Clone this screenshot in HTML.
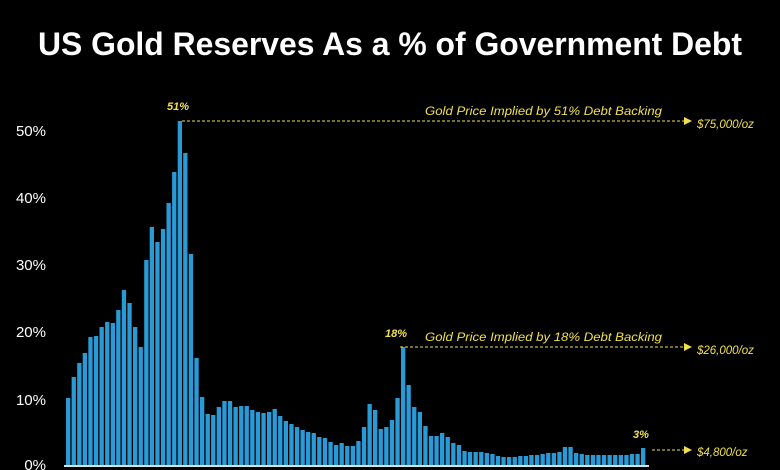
<!DOCTYPE html>
<html><head><meta charset="utf-8"><style>
html,body{margin:0;padding:0;background:#000;}
svg{display:block;}
text{font-family:"Liberation Sans",sans-serif;}
</style></head><body>
<svg id="s" width="780" height="470" viewBox="0 0 780 470" xmlns="http://www.w3.org/2000/svg">
<rect width="780" height="470" fill="#000"/>
<text x="390" y="55" fill="#fff" font-size="32" font-weight="bold" text-anchor="middle" textLength="704" lengthAdjust="spacingAndGlyphs">US Gold Reserves As a % of Government Debt</text>
<g fill="#fff" font-size="15" text-anchor="end">
<text x="46" y="136">50%</text><text x="46" y="203">40%</text><text x="46" y="270">30%</text>
<text x="46" y="337">20%</text><text x="46" y="405">10%</text><text x="46" y="470">0%</text>
</g>
<g id="bars" fill="#2a9ad6"></g>
<rect x="64" y="465" width="585" height="2" fill="#cfe6f2"/>
<g fill="#f0e050" font-style="italic">
<text x="178" y="110" font-size="11" font-weight="bold" text-anchor="middle">51%</text>
<text x="425" y="115" font-size="11.5" textLength="237" lengthAdjust="spacingAndGlyphs">Gold Price Implied by 51% Debt Backing</text>
<text x="697" y="128" font-size="11.5">$75,000/oz</text>
<text x="396" y="337" font-size="11" font-weight="bold" text-anchor="middle">18%</text>
<text x="425" y="341" font-size="11.5" textLength="237" lengthAdjust="spacingAndGlyphs">Gold Price Implied by 18% Debt Backing</text>
<text x="697" y="354" font-size="11.5">$26,000/oz</text>
<text x="641" y="438" font-size="11" font-weight="bold" text-anchor="middle">3%</text>
<text x="697" y="456" font-size="11.5">$4,800/oz</text>
</g>
<g stroke="#f0e050" stroke-width="1" stroke-dasharray="3,2" fill="none">
<line x1="182" y1="121" x2="684" y2="121"/>
<line x1="400" y1="347" x2="684" y2="347"/>
<line x1="652" y1="450" x2="684" y2="450"/>
</g>
<g fill="#f0e050">
<polygon points="684,117 692,121 684,125"/>
<polygon points="684,343 692,347 684,351"/>
<polygon points="684,446 692,450 684,454"/>
</g>
</svg>
<script>
var t=[398,377,363,353,337,336,327,322,323,310,290,303,327,347,260,227,242,229,203,172,121,153,254,358,397,414,415,407,401,401,407,406,406,410,412,413,412,409,416,421,424,427,430,432,433,437,438,442,445,443,446,446,441,427,404,410,429,427,420,398,347,385,407,412,426,436,436,433,437,443,445,451,452,452,452,453,454,456,457,457,457,456,456,455,455,454,453,453,452,447,447,453,454,455,455,455,455,455,455,455,455,454,454,448];
var g=document.getElementById('bars'),h='';
var p=(641-66)/(t.length-1);
for(var i=0;i<t.length;i++){var x=66+i*p;h+='<rect x="'+x.toFixed(1)+'" y="'+t[i]+'" width="4.3" height="'+(466-t[i])+'"/>';}
g.innerHTML=h;
</script>
</body></html>
